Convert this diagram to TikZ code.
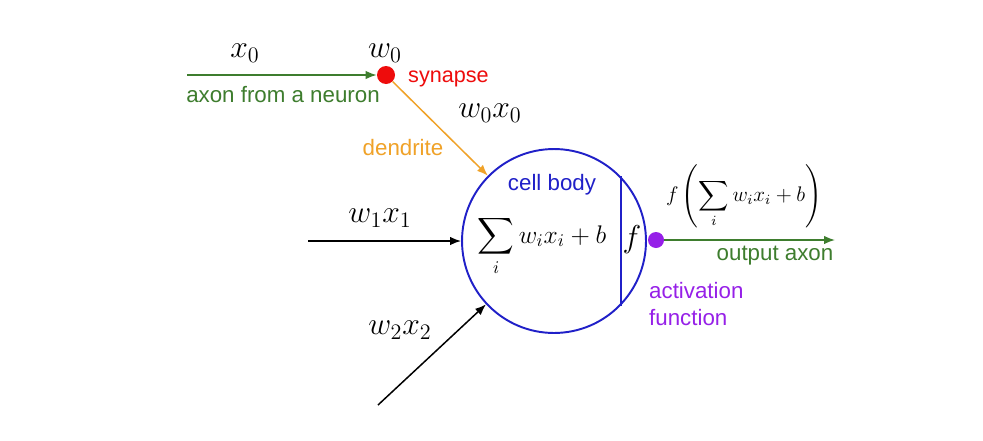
\RequirePackage{fix-cm}
\documentclass[tikz,border=0pt]{standalone}
\usepackage{amsmath,amssymb}
\usepackage{fontspec}
\setmainfont{Liberation Sans}
\usepackage{xcolor}
\usepackage{tikz}
\usetikzlibrary{arrows.meta,positioning,calc}

\definecolor{axongreen}{RGB}{62,125,46}
\definecolor{synred}{RGB}{238,12,12}
\definecolor{dendorange}{RGB}{240,162,40}
\definecolor{bodyblue}{RGB}{32,32,200}
\definecolor{actpurple}{RGB}{150,32,232}

\begin{document}
\begin{tikzpicture}[x=0.02cm, y=-0.02cm, every node/.style={font=\fontsize{12.7}{15}\selectfont}]
\tikzstyle{arrow} = [line width=0.85pt, -{Latex[length=2.2mm,width=1.7mm]}]
\tikzstyle{mlabel} = [font=\fontsize{18}{21}\selectfont, inner sep=0pt]
\tikzstyle{dot} = [circle, inner sep=0pt]

\useasboundingbox[fill=white] (0,0) rectangle (983,440);

% neuron
\node (body) [circle, draw=bodyblue, line width=1.1pt, minimum size=3.68cm, inner sep=0pt] at (554,241) {};
\draw[bodyblue, line width=1.1pt] (body.44) -- (body.-44);
\node (sum) [font=\fontsize{14.5}{17}\selectfont, inner sep=0pt] at (542,246) {$\displaystyle\sum_i w_i x_i + b$};
\node (fn) [mlabel] at (632,240) {$f$};
\node (cellbody) [text=bodyblue] at (552,185) {cell body};

% inputs
\coordinate (in0) at (187,75);
\coordinate (in1) at (308,241);
\coordinate (in2) at (378,405);
\node (syn) [dot, fill=synred, minimum size=0.36cm] at (386,75) {};

\draw[arrow, axongreen] (in0) -- (syn);
\draw[arrow, dendorange] (syn) -- (body);
\draw[arrow] (in1) -- (body);
\draw[arrow] (in2) -- (body);

\node (x0) [mlabel] at (245,53) {$x_0$};
\node (w0) [mlabel] at (385,53) {$w_0$};
\node (axonin) [text=axongreen] at (283,95) {axon from a neuron};
\node (synlbl) [text=synred, anchor=west, font=\fontsize{12.3}{15}\selectfont] at (402,79) {synapse};
\node (w0x0) [mlabel] at (490,113) {$w_0x_0$};
\node (dendlbl) [text=dendorange] at (403,148) {dendrite};
\node (w1x1) [mlabel] at (380,218) {$w_1x_1$};
\node (w2x2) [mlabel] at (400,330) {$w_2x_2$};

% output
\node (act) [dot, fill=actpurple, minimum size=0.32cm] at (656,240) {};
\coordinate (out) at (835,240);
\draw[arrow, axongreen] (act) -- (out);
\node (outf) [font=\fontsize{12}{14}\selectfont, inner sep=0pt] at (744,196) {$f\left(\displaystyle\sum_i w_i x_i + b\right)$};
\node (outlbl) [text=axongreen] at (775,256) {output axon};
\node (actlbl) [text=actpurple, anchor=west, align=left] at (643,304) {activation\\function};
\end{tikzpicture}
\end{document}
